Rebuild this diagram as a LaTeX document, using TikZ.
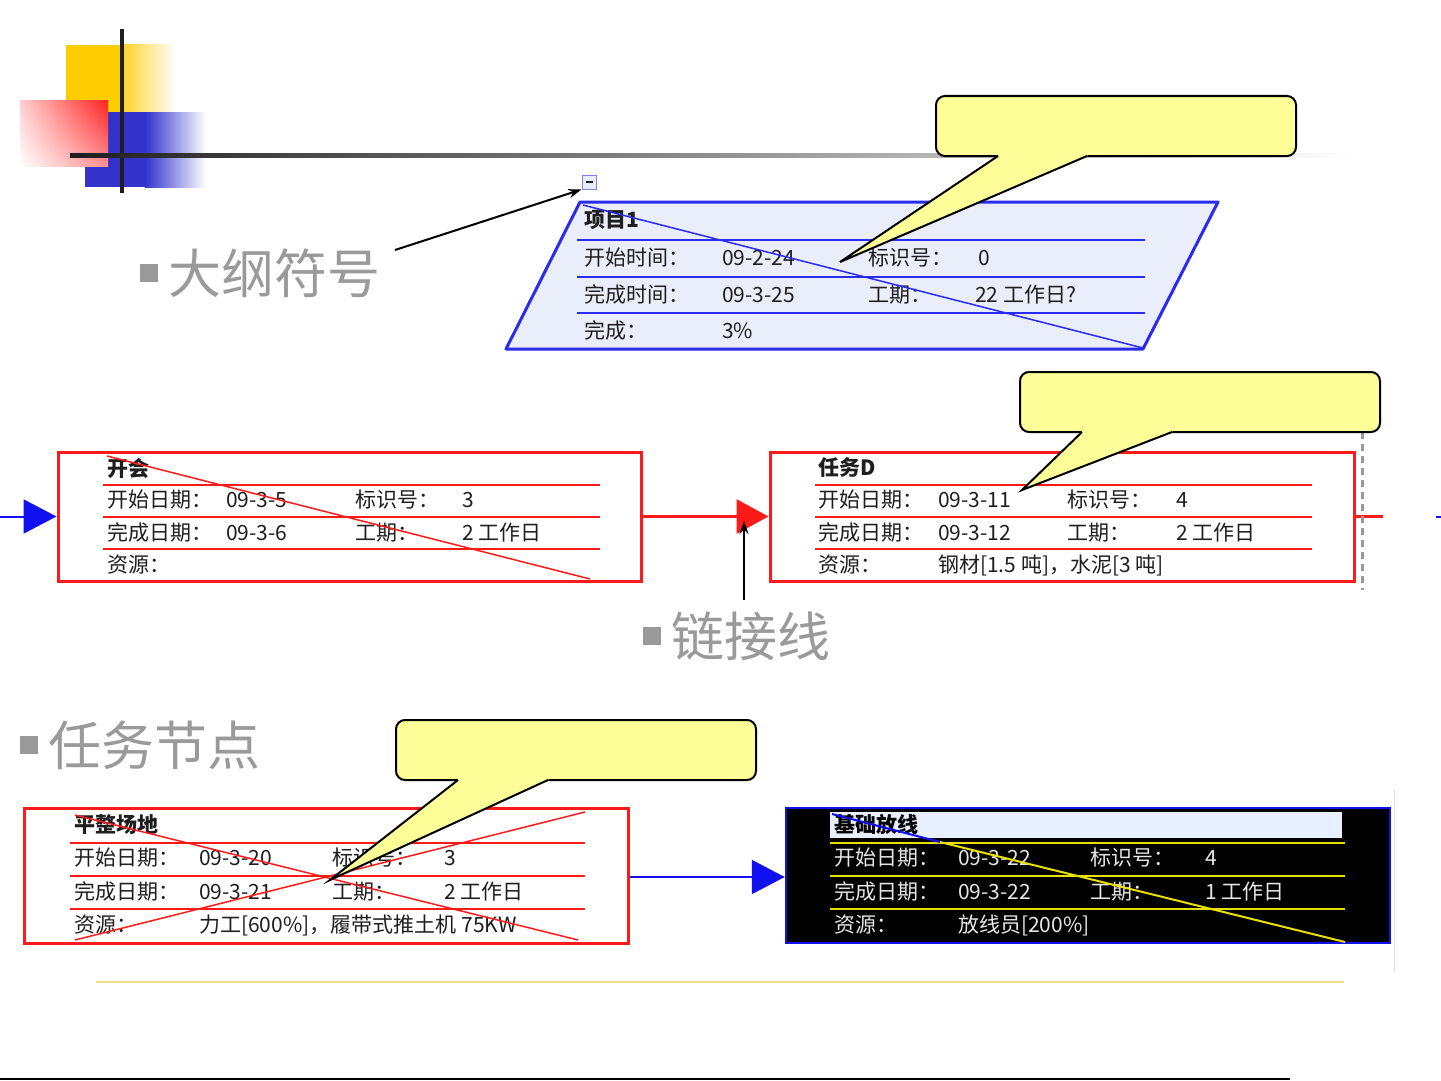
\documentclass[tikz,border=0pt]{standalone}
\usepackage{fontspec}
\newfontfamily\cjk{Noto Sans CJK SC}
\usetikzlibrary{arrows.meta,shadings}
\definecolor{boxred}{HTML}{FF1A1A}
\definecolor{projblue}{HTML}{2A2AF0}
\definecolor{projfill}{HTML}{E9EEFA}
\definecolor{linkblue}{HTML}{1010F0}
\definecolor{txtdark}{HTML}{1E1E1E}
\definecolor{txtlight}{HTML}{E6E6E6}
\definecolor{labelgray}{HTML}{9A9A9A}
\definecolor{callfill}{HTML}{FFFF99}
\definecolor{decoyellow}{HTML}{FFCC00}
\definecolor{decoblue}{HTML}{3333CC}
\definecolor{decored}{HTML}{FF2020}
\definecolor{jcyellow}{HTML}{E8E000}
\definecolor{jctitle}{HTML}{E8F0FF}
\definecolor{footyellow}{HTML}{EEDD88}
\newcommand{\cola}[2]{\makebox[#1][l]{#2}}
\newcommand{\bul}{{\color{labelgray}\raisebox{11pt}{\rule{18pt}{18pt}}}\hspace{10pt}}
\begin{document}
\begin{tikzpicture}[x=1pt,y=-1pt,
  rowtxt/.style={anchor=west,inner sep=0pt,font=\cjk\fontsize{21pt}{24pt}\selectfont,text=txtdark},
  rowlight/.style={rowtxt,text=txtlight},
  titletxt/.style={rowtxt,font=\cjk\bfseries\fontsize{21pt}{24pt}\selectfont},
  biglabel/.style={anchor=west,inner sep=0pt,font=\cjk\fontsize{53pt}{60pt}\selectfont,text=labelgray},
  taskbox/.style={draw=boxred,line width=3pt,fill=white,inner sep=0pt},
  darkbox/.style={draw=linkblue,line width=2.5pt,fill=black,inner sep=0pt},
  redsep/.style={boxred,line width=1.5pt},
  callbox/.style={draw=black,line width=2pt,fill=callfill,rounded corners=9pt,inner sep=0pt},
  pointer/.style={draw=black,line width=2pt,-{Stealth[length=13pt,width=9pt]}},
  bluelink/.style={draw=linkblue,line width=2pt,-{Triangle[length=33pt,width=34pt]}},
  redlink/.style={draw=boxred,line width=3pt,-{Triangle[length=32pt,width=34pt]}}
]
\useasboundingbox (0,0) rectangle (1441,1081);
\fill[white] (0,0) rectangle (1441,1081);

% ---------- title decoration ----------
\fill[decoyellow] (66,45) rectangle (122,112);
\shade[left color=decoyellow!85, right color=white] (122,45) rectangle (176,112);
\fill[decoblue] (85,112) rectangle (145,187);
\shade[left color=decoblue, right color=white] (145,112) rectangle (206,187);
\begin{scope}[y=1pt]
\shade[upper right=decored, lower left=white, upper left=decored!22, lower right=decored!50] (20,-166) rectangle (108,-100);
\end{scope}
\fill[black!88] (120,29) rectangle (124,193);
\shade[left color=black!88, right color=white] (70,153) rectangle (1352,157);

% ---------- project summary ----------
\coordinate (pTL) at (580,202);
\coordinate (pTR) at (1218,202);
\coordinate (pBR) at (1143,349);
\coordinate (pBL) at (506,349);
\draw[projblue,line width=3pt,fill=projfill,line join=round] (pTL) -- (pTR) -- (pBR) -- (pBL) -- cycle;
\draw[projblue,line width=2pt] (577,240) -- (1145,240);
\draw[projblue,line width=2pt] (577,277) -- (1145,277);
\draw[projblue,line width=2pt] (577,313) -- (1145,313);
\node[titletxt] (p0) at (584,220) {项目1};
\node[rowtxt] (p1) at (584,258) {\cola{138pt}{开始时间：}\cola{146pt}{09-2-24}\cola{110pt}{标识号：}0};
\node[rowtxt] (p2) at (584,294) {\cola{138pt}{完成时间：}\cola{146pt}{09-3-25}\cola{107pt}{工期：}22 工作日?};
\node[rowtxt] (p3) at (584,330) {\cola{138pt}{完成：}3\%};
\draw[projblue,line width=1.5pt] (583,205) -- (1143,348);

% outline symbol
\node[draw=projblue!60,fill=projfill,line width=1pt,minimum size=14pt,inner sep=0pt] (olsym) at (589,182) {\color{txtdark}\rule{7pt}{2pt}};
\node[biglabel] (lbl1) at (140,273) {\bul 大纲符号};
\coordinate (olfrom) at (395,250);
\draw[pointer] (olfrom) -- (olsym.south west);

% ---------- middle row ----------
\node[taskbox,minimum width=583pt,minimum height=129pt] (kaihui) at (349.5,516.5) {};
\draw[redsep] (103,485) -- (600,485);
\draw[redsep] (103,517) -- (600,517);
\draw[redsep] (103,549) -- (600,549);
\node[titletxt] (k0) at (107,468) {开会};
\node[rowtxt] (k1) at (107,500) {\cola{119pt}{开始日期：}\cola{129pt}{09-3-5}\cola{107pt}{标识号：}3};
\node[rowtxt] (k2) at (107,532) {\cola{119pt}{完成日期：}\cola{129pt}{09-3-6}\cola{107pt}{工期：}2 工作日};
\node[rowtxt] (k3) at (107,565) {资源：};
\draw[boxred,line width=1.5pt] (107,456) -- (590,579);

\node[taskbox,minimum width=584pt,minimum height=129pt] (taskd) at (1062,516.5) {};
\draw[redsep] (815,485) -- (1312,485);
\draw[redsep] (815,517) -- (1312,517);
\draw[redsep] (815,549) -- (1312,549);
\node[titletxt] (d0) at (818,467) {任务D};
\node[rowtxt] (d1) at (818,500) {\cola{120pt}{开始日期：}\cola{129pt}{09-3-11}\cola{109pt}{标识号：}4};
\node[rowtxt] (d2) at (818,532) {\cola{120pt}{完成日期：}\cola{129pt}{09-3-12}\cola{109pt}{工期：}2 工作日};
\node[rowtxt] (d3) at (818,565) {\cola{120pt}{资源：}钢材[1.5 吨]，水泥[3 吨]};

\coordinate (inK) at (0,516.5);
\draw[bluelink] (inK) -- (kaihui.west);
\draw[redlink] (kaihui.east) -- (taskd.west);
\coordinate (outD) at (1383,516.5);
\draw[boxred,line width=3pt] (taskd.east) -- (outD);
\draw[gray!80,line width=3pt,dash pattern=on 7pt off 5pt] (1362,432) -- (1362,590);
\draw[linkblue,line width=2pt] (1436,517) -- (1441,517);

\node[biglabel] (lbl2) at (643,636) {\bul 链接线};
\coordinate (lkfrom) at (744,600);
\coordinate (lkto) at (744,521);
\draw[pointer] (lkfrom) -- (lkto);

\node[biglabel] (lbl3) at (20,745) {\bul 任务节点};

% ---------- bottom row ----------
\node[taskbox,minimum width=604pt,minimum height=135pt] (pz) at (326,875.5) {};
\draw[redsep] (70,843) -- (585,843);
\draw[redsep] (70,876) -- (585,876);
\draw[redsep] (70,909) -- (585,909);
\node[titletxt] (z0) at (74,825) {平整场地};
\node[rowtxt] (z1) at (74,858) {\cola{125pt}{开始日期：}\cola{133pt}{09-3-20}\cola{112pt}{标识号：}3};
\node[rowtxt] (z2) at (74,891) {\cola{125pt}{完成日期：}\cola{133pt}{09-3-21}\cola{112pt}{工期：}2 工作日};
\node[rowtxt] (z3) at (74,925) {\cola{125pt}{资源：}力工[600\%]，履带式推土机 75KW};
\draw[boxred,line width=1.5pt] (75,815) -- (578,940);
\draw[boxred,line width=1.5pt] (585,812) -- (75,940);

\node[darkbox,minimum width=604pt,minimum height=135pt] (jc) at (1088,875.5) {};
\fill[jctitle] (830,812) rectangle (1342,838);
\draw[jcyellow,line width=2.5pt] (830,843) -- (1345,843);
\draw[jcyellow,line width=2.5pt] (830,876) -- (1345,876);
\draw[jcyellow,line width=2.5pt] (830,909) -- (1345,909);
\node[titletxt,text=black] (j0) at (834,824) {基础放线};
\node[rowlight] (j1) at (834,858) {\cola{124pt}{开始日期：}\cola{132pt}{09-3-22}\cola{115pt}{标识号：}4};
\node[rowlight] (j2) at (834,891) {\cola{124pt}{完成日期：}\cola{132pt}{09-3-22}\cola{115pt}{工期：}1 工作日};
\node[rowlight] (j3) at (834,925) {\cola{124pt}{资源：}放线员[200\%]};
\draw[linkblue,line width=2pt] (832,814) -- (940,842);
\draw[jcyellow,line width=2pt] (940,842) -- (1345,942);

\draw[bluelink] (pz.east |- 0,877) -- (jc.west |- 0,877);
\draw[gray!25,line width=1pt] (1394,790) -- (1394,972);

% ---------- callouts ----------
\node[callbox,minimum width=360pt,minimum height=60pt] (c1) at (1116,126) {};
\coordinate (c1tip) at (840,262);
\fill[callfill] (997,153) -- (1088,153) -- (1087,157) -- (c1tip) -- (998,157) -- cycle;
\draw[black,line width=2pt,line join=miter] (998,156) -- (c1tip) -- (1087,156);

\node[callbox,minimum width=360pt,minimum height=60pt] (c2) at (1200,402) {};
\coordinate (c2tip) at (1022,490);
\fill[callfill] (1081,429) -- (1173,429) -- (1172,433) -- (c2tip) -- (1082,433) -- cycle;
\draw[black,line width=2pt,line join=miter] (1082,432) -- (c2tip) -- (1172,432);

\node[callbox,minimum width=360pt,minimum height=60pt] (c3) at (576,750) {};
\coordinate (c3tip) at (330,880);
\fill[callfill] (457,777) -- (549,777) -- (548,781) -- (c3tip) -- (458,781) -- cycle;
\draw[black,line width=2pt,line join=miter] (458,780) -- (c3tip) -- (548,780);

% ---------- footer ----------
\draw[footyellow,line width=2pt] (96,982) -- (1344,982);
\draw[black,line width=2pt] (0,1079) -- (1290,1079);
\end{tikzpicture}
\end{document}
